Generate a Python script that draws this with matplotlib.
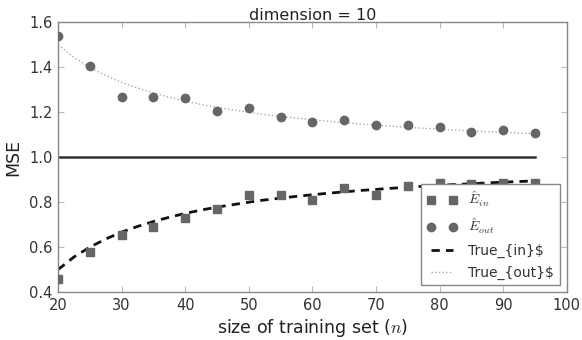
import matplotlib
matplotlib.use("Agg")
import matplotlib.pyplot as plt

plt.rcParams['font.family'] = ['DejaVu Sans']
plt.rcParams['mathtext.fontset'] = 'cm'

n_points = [20, 25, 30, 35, 40, 45, 50, 55, 60, 65, 70, 75, 80, 85, 90, 95]
e_in = [0.46, 0.58, 0.655, 0.69, 0.73, 0.77, 0.83, 0.83, 0.81, 0.865, 0.83, 0.872, 0.887, 0.883, 0.885, 0.887]
e_out = [1.54, 1.405, 1.27, 1.268, 1.262, 1.205, 1.22, 1.18, 1.158, 1.165, 1.145, 1.142, 1.133, 1.113, 1.12, 1.11]

n_curve = [20, 22.5, 25, 27.5, 30, 32.5, 35, 37.5, 40, 42.5, 45, 47.5, 50, 52.5, 55, 57.5,
           60, 62.5, 65, 67.5, 70, 72.5, 75, 77.5, 80, 82.5, 85, 87.5, 90, 92.5, 95]
true_out = [1.5, 1.444, 1.4, 1.364, 1.333, 1.308, 1.286, 1.267, 1.25, 1.235, 1.222, 1.211, 1.2, 1.19,
            1.182, 1.174, 1.167, 1.16, 1.154, 1.148, 1.143, 1.138, 1.133, 1.129, 1.125, 1.121, 1.118,
            1.114, 1.111, 1.108, 1.105]
true_in = [0.5, 0.556, 0.6, 0.636, 0.667, 0.692, 0.714, 0.733, 0.75, 0.765, 0.778, 0.789, 0.8, 0.81,
           0.818, 0.826, 0.833, 0.84, 0.846, 0.852, 0.857, 0.862, 0.867, 0.871, 0.875, 0.879, 0.882,
           0.886, 0.889, 0.892, 0.895]
base_n = [20, 95]
base_y = [1.0, 1.0]

xticks = [20, 30, 40, 50, 60, 70, 80, 90, 100]
yticks = [0.4, 0.6, 0.8, 1.0, 1.2, 1.4, 1.6]

fig = plt.figure(figsize=(5.82, 3.4), dpi=100)
ax = fig.add_axes([0.0997, 0.141, 0.8743, 0.793])

mk = '#666666'
ax.plot(n_points, e_in, 's', color=mk, ms=5.5, mec=mk, label=r'$\hat{E}_{in}$', zorder=3)
ax.plot(n_points, e_out, 'o', color=mk, ms=6, mec=mk, label=r'$\hat{E}_{out}$', zorder=3)
ax.plot(n_curve, true_in, '--', color='#111111', lw=2, dashes=(3, 2.2), label='True_{in}$', zorder=2)
ax.plot(n_curve, true_out, ':', color='#aaaaaa', lw=1, label='True_{out}$', zorder=2)
ax.plot(base_n, base_y, '-', color='#333333', lw=1.8, zorder=2)

ax.set_xlim(20, 100)
ax.set_ylim(0.4, 1.6)
ax.set_xticks(xticks)
ax.set_yticks(yticks)
ax.set_xticklabels([str(t) for t in xticks])
ax.set_yticklabels(['%.1f' % t for t in yticks])

for s in ax.spines.values():
    s.set_color('#888888')
    s.set_linewidth(1.0)
ax.tick_params(direction='in', top=True, right=True, length=4, color='#bbbbbb',
               labelsize=10.5, labelcolor='#333333', pad=4)

ax.set_xlabel('size of training set ($n$)', fontsize=12.5, color='#222222', labelpad=3)
ax.set_ylabel('MSE', fontsize=12.5, color='#222222', labelpad=5)
ax.set_title('dimension = 10', fontsize=11.5, color='#222222', pad=2)

leg = ax.legend(loc='lower right', numpoints=2, fontsize=10, fancybox=False,
                framealpha=1, borderaxespad=0.5, handlelength=2.2, labelspacing=0.55)
leg.get_frame().set_edgecolor('#888888')
leg.get_frame().set_linewidth(1.0)
for t in leg.get_texts():
    t.set_color('#333333')

fig.savefig('out.png', dpi=100)
